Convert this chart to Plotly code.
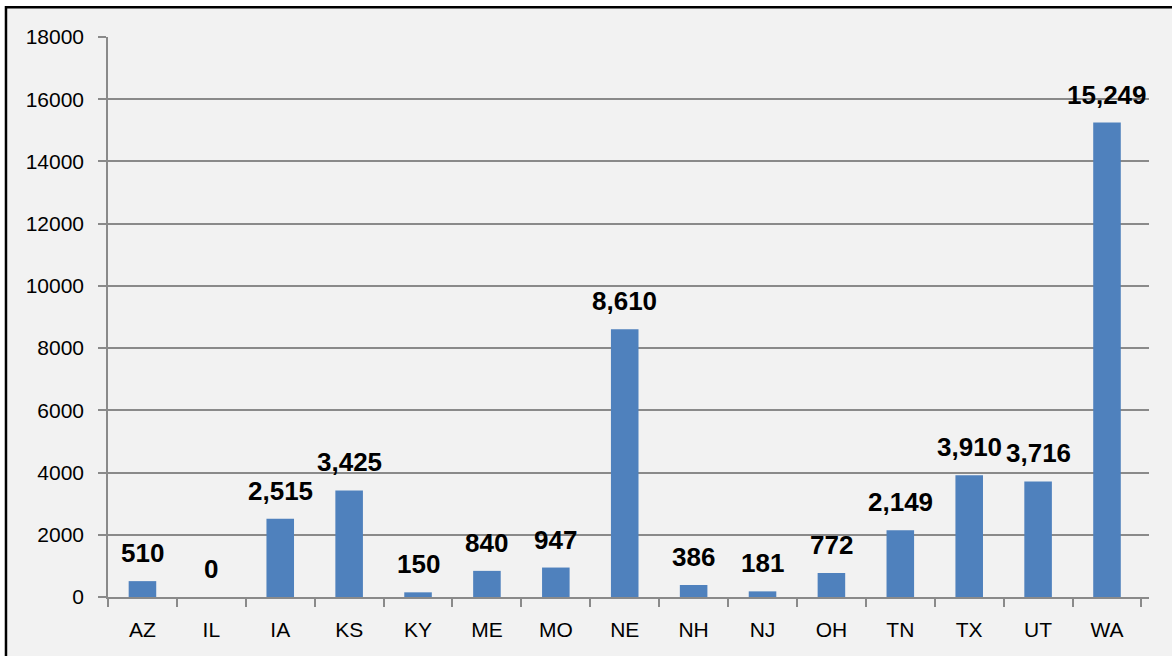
import plotly.graph_objects as go

states = ["AZ", "IL", "IA", "KS", "KY", "ME", "MO", "NE", "NH", "NJ", "OH", "TN", "TX", "UT", "WA"]
values = [510, 0, 2515, 3425, 150, 840, 947, 8610, 386, 181, 772, 2149, 3910, 3716, 15249]
y_ticks = [0, 2000, 4000, 6000, 8000, 10000, 12000, 14000, 16000, 18000]

FONT = "Arial Narrow, Liberation Sans, Arial, sans-serif"
GRID = "#8A8A8A"

fig = go.Figure()
fig.add_trace(go.Bar(
    x=states, y=values,
    marker=dict(color="#4F81BD", line=dict(width=0)),
    hoverinfo="skip",
))

for s, v in zip(states, values):
    fig.add_annotation(
        x=s, y=v, text=f"<b>{v:,}</b>", showarrow=False,
        yanchor="bottom", yshift=11,
        font=dict(family=FONT, size=26, color="black"),
    )

# chart frame
fig.add_shape(
    type="rect", xref="paper", yref="paper",
    x0=-0.098, x1=1.05, y0=-0.15, y1=1.053,
    line=dict(color="black", width=2.5), fillcolor="#F2F2F2", layer="below",
)

fig.update_layout(
    width=1172, height=656,
    margin=dict(l=108, r=23, t=37, b=59),
    paper_bgcolor="white", plot_bgcolor="rgba(0,0,0,0)",
    bargap=0.6, showlegend=False,
    font=dict(family=FONT, size=21, color="black"),
)
fig.update_xaxes(
    showline=True, linecolor=GRID, linewidth=1.5,
    ticks="outside", tickson="boundaries", ticklen=8, tickcolor=GRID, tickwidth=1.5,
    showgrid=False, tickfont=dict(family=FONT, size=21),
    ticklabelstandoff=13,
)
fig.update_yaxes(
    range=[0, 18000], tickvals=y_ticks, tickformat="d",
    showline=True, linecolor=GRID, linewidth=1.5,
    ticks="outside", ticklen=8, tickcolor=GRID, tickwidth=1.5,
    showgrid=True, gridcolor=GRID, gridwidth=1.5, zeroline=False,
    tickfont=dict(family=FONT, size=21), ticklabelstandoff=10,
)

fig.write_html(
    "out.html",
    config={"displayModeBar": False},
    post_script="document.body.style.margin='0';document.body.style.overflow='hidden';",
)
